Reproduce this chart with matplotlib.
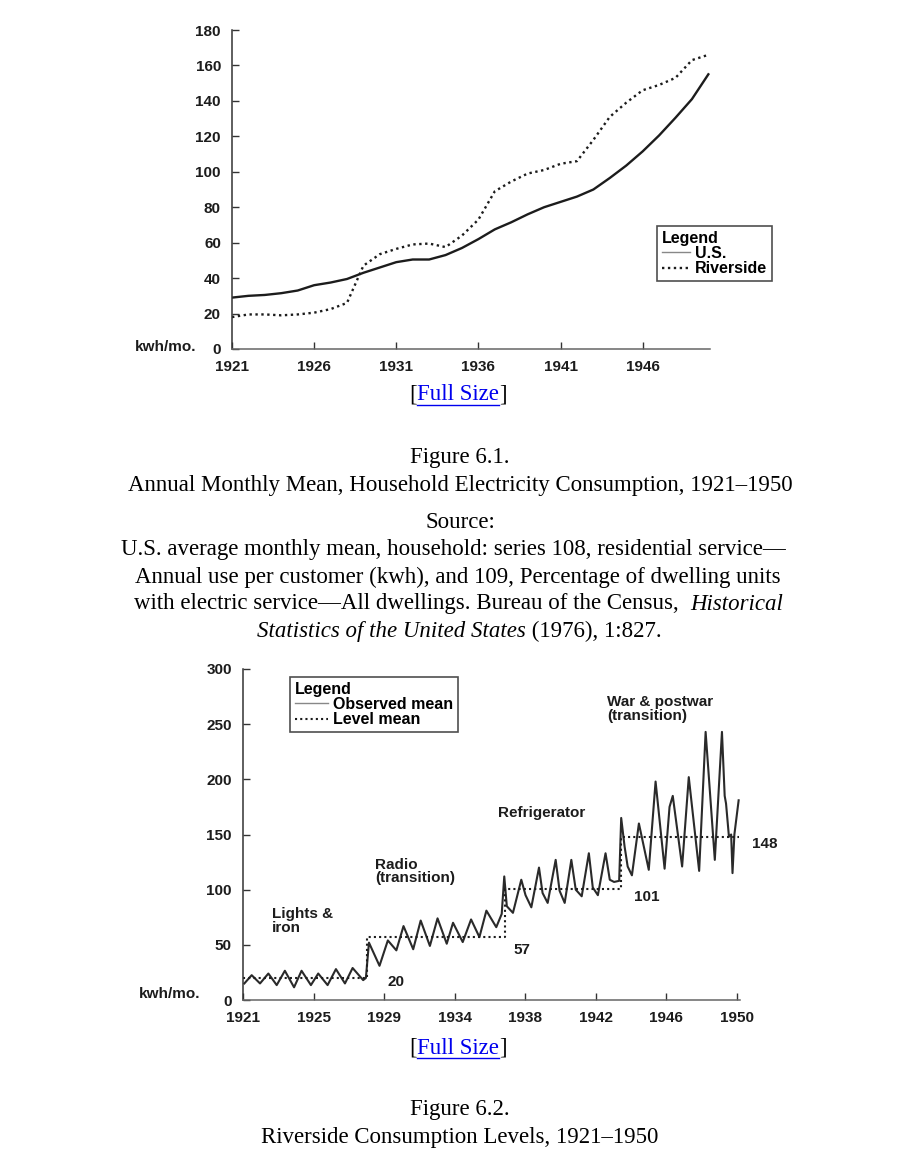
import matplotlib
matplotlib.use('Agg')
import matplotlib.pyplot as plt
from matplotlib.lines import Line2D

plt.rcParams['font.family'] = ['Liberation Sans', 'DejaVu Sans']
plt.rcParams['font.weight'] = 'bold'

W, H = 902, 1152

# ---- Figure 6.1 data (kwh/mo.) ----
years_61 = list(range(1921, 1951))
us_mean = [29, 30, 30.5, 31.5, 33, 36, 37.5, 39.5, 43, 46,
           49, 50.5, 50.5, 53, 57, 62, 67.5, 71.5, 76, 80,
           83, 86, 90, 96.5, 103.5, 111.5, 120.5, 130.5, 141, 155]
riverside_mean = [18, 19.5, 19.5, 19, 19.5, 20.5, 22.5, 26, 47, 53.5,
                  56.5, 59, 59.5, 57.5, 64, 73, 89, 94.5, 99, 101,
                  104.5, 106, 118, 131, 139, 146, 149, 153, 163, 166]
ticks_61 = [1921, 1926, 1931, 1936, 1941, 1946]

# ---- Figure 6.2 data (kwh/mo.) ----
obs_t = [1921.08, 1921.51, 1922.0, 1922.49, 1922.98, 1923.46, 1924.0, 1924.44,
         1924.99, 1925.42, 1925.97, 1926.46, 1926.99, 1927.44, 1928.06, 1928.22,
         1928.4, 1929.02, 1929.51, 1930.01, 1930.43, 1931.0, 1931.44, 1931.98,
         1932.43, 1932.97, 1933.34, 1933.91, 1934.4, 1934.89, 1935.3, 1935.88,
         1936.2, 1936.35, 1936.5, 1936.86, 1937.35, 1937.6, 1937.94, 1938.39,
         1938.6, 1938.9, 1939.37, 1939.6, 1939.9, 1940.29, 1940.55, 1940.9,
         1941.32, 1941.55, 1941.85, 1942.3, 1942.55, 1942.8, 1943.1, 1943.22,
         1943.42, 1943.6, 1943.85, 1944.26, 1944.84, 1945.24, 1945.77, 1946.06,
         1946.25, 1946.8, 1947.19, 1947.8, 1948.18, 1948.72, 1949.14, 1949.3,
         1949.38, 1949.55, 1949.68, 1949.76, 1949.87, 1950.12]
obs_v = [15, 22.5, 15, 24, 13.5, 26.5, 11.5, 26.5,
         13.5, 24, 13.5, 28, 15, 29, 18, 20,
         52, 31, 54, 45, 67, 46, 72, 49,
         74, 51, 70, 52.5, 73, 57, 81, 66,
         78, 112, 85, 79, 109, 95, 84, 120,
         97, 88, 127, 99, 88, 127, 100, 94,
         133, 102, 95, 133, 109, 107, 108, 165,
         139, 121, 113, 160, 118, 198, 119, 175,
         185, 121, 202, 117, 243, 127, 243, 185,
         178, 148, 150, 115, 150, 181]
level_t = [1921, 1928.3, 1936.4, 1943.2, 1950.15]
level_v = [20, 57, 101, 148, 148]
level_labels = ['20', '57', '101', '148']
ticks_62 = [1921 + i * 29 / 7 for i in range(8)]
tick_labels_62 = ['1921', '1925', '1929', '1934', '1938', '1942', '1946', '1950']

fig = plt.figure(figsize=(W / 100, H / 100), dpi=100)
fig.patch.set_facecolor('white')

INK = '#1c1c1c'
LFS = 11
lab_font = dict(family='Liberation Sans', weight='bold', size=LFS, color=INK)
leg_font = dict(family='Liberation Sans', weight='bold', size=11.5)


def style_axes(ax):
    for s in ['top', 'right']:
        ax.spines[s].set_visible(False)
    ax.spines['left'].set_color('#333333')
    ax.spines['bottom'].set_color('#666666')
    ax.spines['left'].set_linewidth(1.1)
    ax.spines['bottom'].set_linewidth(1.1)
    ax.tick_params(direction='in', length=5, width=1, colors='#333333',
                   labelsize=LFS, labelcolor=INK)
    ax.tick_params(axis='y', pad=8)
    ax.tick_params(axis='x', pad=8)
    ax.set_facecolor('none')


def px(x, y):
    return x / W, 1 - y / H


def boxed_legend(ax, anchor, hl):
    leg = ax.legend(loc='upper left', bbox_to_anchor=anchor, borderaxespad=0,
                    title='Legend', alignment='left', frameon=True,
                    fancybox=False, handlelength=hl, handletextpad=0.3,
                    borderpad=0.3, labelspacing=0.02, prop=leg_font,
                    title_fontproperties=leg_font)
    leg.get_frame().set_edgecolor('#222222')
    leg.get_frame().set_linewidth(1.2)
    leg.get_lines()[0].set_linewidth(1.0)
    leg.get_lines()[0].set_color('#888888')
    return leg


# ================= Figure 6.1 =================
ax1 = fig.add_axes([232 / W, 1 - 349 / H, 478 / W, 319 / H])
ax1.plot(years_61, us_mean, color=INK, lw=1.7, label='U.S.')
ax1.plot(years_61, riverside_mean, color=INK, lw=1.7, ls=(0, (1, 1.5)),
         label='Riverside')
ax1.set_xlim(1921, 1950.1)
ax1.set_ylim(0, 180)
ax1.set_yticks(range(0, 181, 20))
ax1.set_xticks(ticks_61)
style_axes(ax1)
boxed_legend(ax1, (0.889, 0.386), 1.8)
fig.text(*px(166, 347), 'kwh/mo.', ha='center', va='center', **lab_font)

# ================= Figure 6.2 =================
ax2 = fig.add_axes([243 / W, 1 - 1000 / H, 497 / W, 331 / H])
ax2.plot(obs_t, obs_v, color='#2a2a2a', lw=1.5, label='Observed mean')
ax2.step(level_t, level_v, where='post', color=INK, lw=1.5,
         ls=(0, (1, 1.5)), label='Level mean')
ax2.set_xlim(1921, 1950.2)
ax2.set_ylim(0, 300)
ax2.set_yticks(range(0, 301, 50))
ax2.set_xticks(ticks_62)
ax2.set_xticklabels(tick_labels_62)
style_axes(ax2)
boxed_legend(ax2, (0.0946, 0.976), 2.1)
fig.text(*px(170, 994), 'kwh/mo.', ha='center', va='center', **lab_font)

# period annotations
ann = dict(ha='left', va='top', linespacing=0.95, clip_on=False, **lab_font)
ax2.text(1922.7, 84, 'Lights &\niron', **ann)
ax2.text(1928.75, 129, 'Radio\n(transition)', **ann)
ax2.text(1936.0, 176, 'Refrigerator', **ann)
ax2.text(1942.4, 276, 'War & postwar\n(transition)', **ann)
lvl_pos = [(1929.5, 16.5), (1936.9, 45.5), (1944.0, 93.5), (1950.9, 141)]
for (x, y), s in zip(lvl_pos, level_labels):
    ax2.text(x, y, s, ha='left', va='center', clip_on=False, **lab_font)

# ================= page text =================
serif = 'Liberation Serif'
FS = 16.5
fig.canvas.draw()
rend = fig.canvas.get_renderer()


def width_of(t):
    return t.get_window_extent(rend).width


def line(y, pieces, cx=451):
    """pieces: list of (text, style, color, underline)"""
    objs = []
    for s, st, col, ul in pieces:
        t = fig.text(0, 1 - y / H, s, family=serif, style=st, size=FS,
                     weight='normal', color=col, va='center', ha='left')
        objs.append((t, ul))
    sp = fig.text(0, 0, 'x x', family=serif, size=FS)
    sp2 = fig.text(0, 0, 'xx', family=serif, size=FS)
    gap = width_of(sp) - width_of(sp2)
    sp.remove()
    sp2.remove()
    widths = [width_of(t) for t, _ in objs]
    gaps = [gap if p[0].endswith(' ') else 0 for p in pieces]
    total = sum(widths) + sum(gaps)
    x = cx - total / 2
    for (t, ul), w, g in zip(objs, widths, gaps):
        t.set_x(x / W)
        if ul:
            fig.add_artist(Line2D([x / W, (x + w) / W],
                                  [1 - (y + 10) / H, 1 - (y + 10) / H],
                                  color=t.get_color(), lw=1.0))
        x += w + g


BLUE = '#0000EE'
for yy in (395, 1048):
    line(yy, [('[', 'normal', 'black', False), ('Full Size', 'normal', BLUE, True),
              (']', 'normal', 'black', False)], cx=458)

line(458, [('Figure 6.1.', 'normal', 'black', False)], cx=460)
line(485, [('Annual Monthly Mean, Household Electricity Consumption, 1921\u20131950',
            'normal', 'black', False)], cx=460)
line(522, [('Source:', 'normal', 'black', False)], cx=460)
line(550, [('U.S. average monthly mean, household: series 108, residential service\u2014',
            'normal', 'black', False)], cx=453)
line(577, [('Annual use per customer (kwh), and 109, Percentage of dwelling units',
            'normal', 'black', False)], cx=458)
line(604, [('with electric service\u2014All dwellings. Bureau of the Census, ', 'normal', 'black', False),
           ('Historical', 'italic', 'black', False)], cx=459)
line(631, [('Statistics of the United States', 'italic', 'black', False),
           (' (1976), 1:827.', 'normal', 'black', False)], cx=459)
line(1110, [('Figure 6.2.', 'normal', 'black', False)], cx=460)
line(1137, [('Riverside Consumption Levels, 1921\u20131950', 'normal', 'black', False)], cx=460)

fig.savefig('out.png', dpi=100)
